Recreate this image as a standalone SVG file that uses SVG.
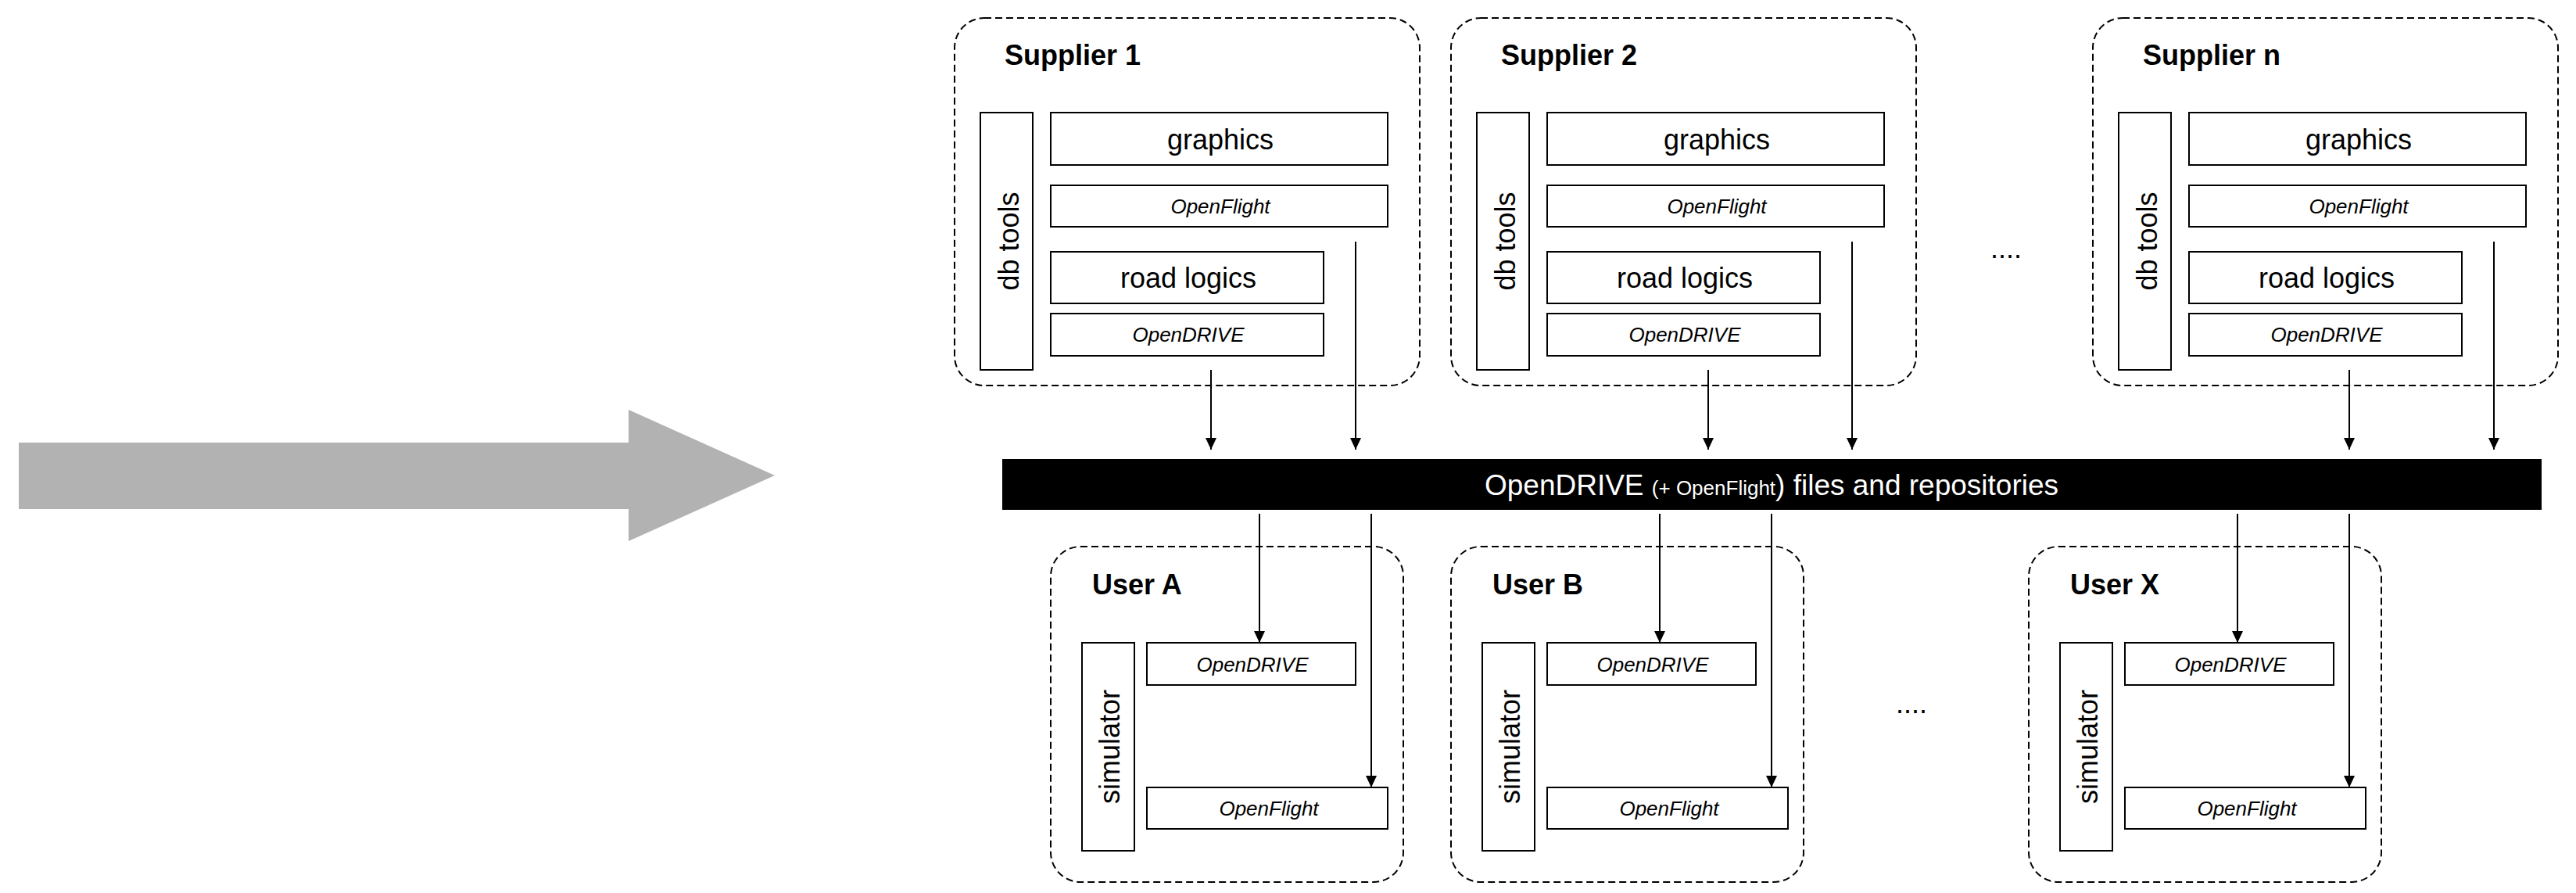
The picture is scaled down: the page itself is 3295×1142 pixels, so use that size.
<svg xmlns="http://www.w3.org/2000/svg" width="3295" height="1142" viewBox="0 0 3295 1142">
<style>
text{font-family:"Liberation Sans",Arial,sans-serif;fill:#000}
.grp{fill:none;stroke:#000;stroke-width:2;stroke-dasharray:9 5}
.box{fill:#fff;stroke:#000;stroke-width:2}
.ttl{font-size:36px;font-weight:bold}
.lbl{font-size:36px;text-anchor:middle}
.fmt{font-size:26px;font-style:italic;text-anchor:middle}
.dots{font-size:36px}
.con{stroke:#000;stroke-width:2;fill:none;marker-end:url(#ah)}
</style>
<defs>
<marker id="ah" viewBox="0 0 15 14" markerWidth="15" markerHeight="14" refX="15" refY="7" orient="auto" markerUnits="userSpaceOnUse"><path d="M0,0 L15,7 L0,14 z" fill="#000"/></marker>
<g id="supplier">
<rect class="grp" x="1221" y="23" width="595" height="470" rx="38"/>
<rect class="box" x="1254" y="144" width="67" height="329"/>
<text class="lbl" transform="translate(1303,308.5) rotate(-90)">db tools</text>
<rect class="box" x="1344" y="144" width="431" height="67"/>
<text class="lbl" x="1561" y="191">graphics</text>
<rect class="box" x="1344" y="237" width="431" height="53"/>
<text class="fmt" x="1561" y="273">OpenFlight</text>
<rect class="box" x="1344" y="322" width="349" height="66"/>
<text class="lbl" x="1520" y="368">road logics</text>
<rect class="box" x="1344" y="401" width="349" height="54"/>
<text class="fmt" x="1520" y="437">OpenDRIVE</text>
</g>
<g id="user">
<rect class="grp" x="1344" y="699" width="451" height="429" rx="38"/>
<rect class="box" x="1384" y="822" width="67" height="266"/>
<text class="lbl" transform="translate(1432,955) rotate(-90)">simulator</text>
<rect class="box" x="1467" y="822" width="267" height="54"/>
<text class="fmt" x="1602" y="859">OpenDRIVE</text>
<rect class="box" x="1467" y="1007" width="308" height="53"/>
<text class="fmt" x="1623" y="1043">OpenFlight</text>
</g>
</defs>

<g id="big-arrow">
<polygon points="24,566 804,566 804,524 991,608 804,692 804,651 24,651" fill="#b2b2b2"/>
</g>

<g id="supplier-1">
<use href="#supplier"/>
<text class="ttl" x="1285" y="83">Supplier 1</text>
</g>
<g id="supplier-2" transform="translate(635,0)">
<use href="#supplier"/>
<text class="ttl" x="1285" y="83">Supplier 2</text>
</g>
<g id="supplier-n" transform="translate(1456,0)">
<use href="#supplier"/>
<text class="ttl" x="1285" y="83">Supplier n</text>
</g>
<text class="dots" x="2546" y="330">....</text>

<g id="repository">
<rect x="1282" y="587" width="1969" height="65" fill="#000"/>
<text x="2266" y="633" text-anchor="middle" style="font-size:37px;fill:#fff">OpenDRIVE <tspan style="font-size:26px">(+ OpenFlight</tspan>) files and repositories</text>
</g>

<g id="user-a">
<use href="#user"/>
<text class="ttl" x="1397" y="760">User A</text>
</g>
<g id="user-b" transform="translate(512,0)">
<use href="#user"/>
<text class="ttl" x="1397" y="760">User B</text>
</g>
<g id="user-x" transform="translate(1251,0)">
<use href="#user"/>
<text class="ttl" x="1397" y="760">User X</text>
</g>
<text class="dots" x="2425" y="912">....</text>

<g id="connectors">
<line class="con" x1="1549" y1="473" x2="1549" y2="575"/>
<line class="con" x1="1734" y1="309" x2="1734" y2="575"/>
<line class="con" x1="2185" y1="473" x2="2185" y2="575"/>
<line class="con" x1="2369" y1="309" x2="2369" y2="575"/>
<line class="con" x1="3005" y1="473" x2="3005" y2="575"/>
<line class="con" x1="3190" y1="309" x2="3190" y2="575"/>
<line class="con" x1="1611" y1="657" x2="1611" y2="822"/>
<line class="con" x1="1754" y1="657" x2="1754" y2="1007"/>
<line class="con" x1="2123" y1="657" x2="2123" y2="822"/>
<line class="con" x1="2266" y1="657" x2="2266" y2="1007"/>
<line class="con" x1="2862" y1="657" x2="2862" y2="822"/>
<line class="con" x1="3005" y1="657" x2="3005" y2="1007"/>
</g>
</svg>
